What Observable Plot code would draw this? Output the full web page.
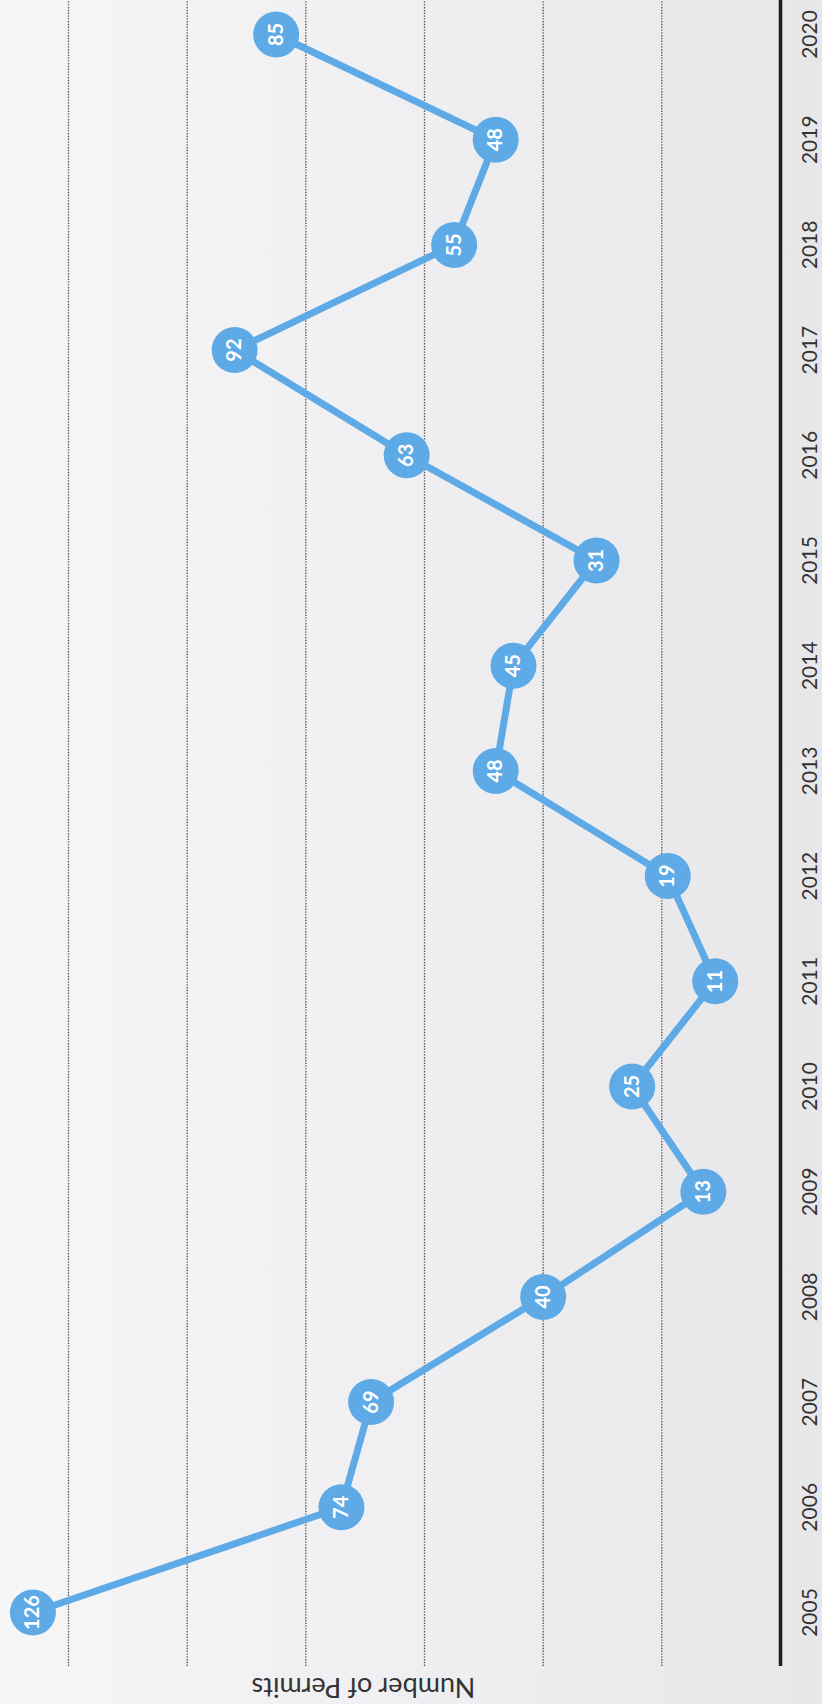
<!DOCTYPE html>
<html>
<head>
<meta charset="utf-8">
<script src="https://cdn.jsdelivr.net/npm/d3@7"></script>
<script src="https://cdn.jsdelivr.net/npm/@observablehq/plot@0.6"></script>
<style>
  html, body {
    margin: 0;
    padding: 0;
    width: 822px;
    height: 1704px;
    overflow: hidden;
    background: linear-gradient(to right, #f6f6f7 0%, #f0f0f2 45%, #e7e7ea 100%);
    font-family: Lato, "Open Sans", sans-serif;
  }
  /* The chart is laid out landscape and turned a quarter turn counter-clockwise */
  #page {
    position: absolute;
    left: 0;
    top: 0;
    width: 1704px;
    height: 822px;
    transform-origin: 0 0;
    transform: translateY(1704px) rotate(-90deg);
  }
</style>
</head>
<body>
<div id="page"></div>
<script>
// Building permits issued per year
const years = [2005, 2006, 2007, 2008, 2009, 2010, 2011, 2012, 2013, 2014, 2015, 2016, 2017, 2018, 2019, 2020];
const permits = [126, 74, 69, 40, 13, 25, 11, 19, 48, 45, 31, 63, 92, 55, 48, 85];
const gridValues = [20, 40, 60, 80, 100, 120];
const axisTitle = "Number of Permits";

const data = years.map((year, i) => ({year, permits: permits[i]}));
const blue = "#5eaae6";

const chart = Plot.plot({
  width: 1704,
  height: 822,
  marginLeft: 38,
  marginRight: 0,
  marginTop: 68,
  marginBottom: 42,
  style: {background: "transparent", fontFamily: "Lato, 'Open Sans', sans-serif", overflow: "visible"},
  x: {domain: [2005, 2020], insetLeft: 53, insetRight: 35, axis: null},
  y: {domain: [0, 120], axis: null},
  marks: [
    // dotted horizontal gridlines
    Plot.ruleY(gridValues, {stroke: "#2a2a2a", strokeWidth: 1.3, strokeOpacity: 0.8, strokeDasharray: "1.4 1.4"}),
    // solid baseline at zero
    Plot.ruleY([0], {stroke: "#1c1c1c", strokeWidth: 3.5}),
    // year labels under the baseline
    Plot.axisX({ticks: years, tickFormat: d => String(d), tickSize: 0, tickPadding: 22, fontSize: 21, fill: "#333", label: null}),
    // value axis title
    Plot.text([axisTitle], {frameAnchor: "left", rotate: -90, dx: -21, dy: -61, fontSize: 27, fill: "#333", textAnchor: "middle"}),
    // the series line
    Plot.line(data, {x: "year", y: "permits", stroke: blue, strokeWidth: 7}),
    // numbered markers
    Plot.dot(data, {x: "year", y: "permits", r: 23, fill: blue, stroke: "none"}),
    Plot.text(data, {x: "year", y: "permits", text: d => String(d.permits), fill: "white", fontWeight: "bold", fontSize: 20})
  ]
});

document.getElementById("page").appendChild(chart);
</script>
</body>
</html>
